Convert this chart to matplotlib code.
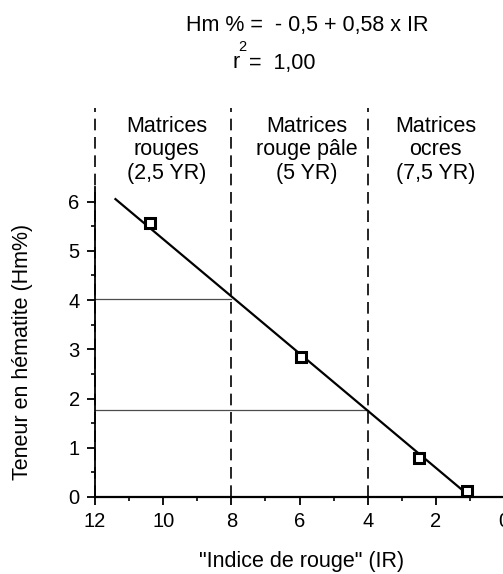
#! /usr/bin/python3

import matplotlib
matplotlib.use("Agg")
import matplotlib.pyplot as plt
from matplotlib.ticker import FixedLocator

# measured points (IR, Hm%)
ir = [10.4, 5.95, 2.5, 1.1]
hm = [5.57, 2.85, 0.79, 0.12]

# regression line end points
fit_ir = [11.4, 0.98]
fit_hm = [6.05, 0.0]

# class limits and the read-off levels
limits = [12, 8, 4]
levels = [4.03, 1.77]
level_ends = [8, 4]

classes = ["Matrices\nrouges\n(2,5 YR)",
           "Matrices\nrouge pâle\n(5 YR)",
           "Matrices\nocres\n(7,5 YR)"]
class_x = [9.9, 5.8, 2.0]

x_ticks = [12, 10, 8, 6, 4, 2, 0]
x_minor = [11, 9, 7, 5, 3, 1]
y_ticks = [0, 1, 2, 3, 4, 5, 6]
y_minor = [0.5, 1.5, 2.5, 3.5, 4.5, 5.5]


def main():
    plt.rcParams['font.family'] = ['Liberation Sans', 'DejaVu Sans']
    W, H = 503, 574
    fig = plt.figure(figsize=(W / 100, H / 100), dpi=100)
    ax = fig.add_axes([95 / W, 77 / H, 409 / W, 389 / H])
    ax.set_xlim(12, 0)
    ax.set_ylim(0, 7.9)
    ax.patch.set_alpha(0)

    for s in ["top", "right"]:
        ax.spines[s].set_visible(False)
    ax.spines["left"].set_bounds(0, 6.3)
    ax.spines["left"].set_linewidth(1.3)
    ax.spines["bottom"].set_linewidth(1.6)

    # dashed class limits
    for x in limits:
        ax.plot([x, x], [0, 7.9], color="black", lw=1.2,
                dashes=(7, 4), clip_on=False, zorder=1)

    # horizontal read-off lines
    for y, xe in zip(levels, level_ends):
        ax.plot([12, xe], [y, y], color="0.3", lw=0.9, zorder=1)

    ax.plot(fit_ir, fit_hm, color="black", lw=1.6, zorder=2)
    ax.plot(ir, hm, linestyle="none", marker="s", markersize=7.5,
            markerfacecolor="white", markeredgecolor="black",
            markeredgewidth=2.2, zorder=3, clip_on=False)

    ax.set_xticks(x_ticks)
    ax.set_yticks(y_ticks)
    ax.xaxis.set_minor_locator(FixedLocator(x_minor))
    ax.yaxis.set_minor_locator(FixedLocator(y_minor))
    ax.tick_params(which="major", direction="out", length=6, width=1.3,
                   labelsize=14.5, pad=5)
    ax.tick_params(which="minor", direction="out", length=3, width=1.2)

    for txt, x in zip(classes, class_x):
        ax.text(x, (497 - 150) / 49.2, txt, ha="center", va="center",
                multialignment="center", fontsize=15.5, linespacing=1.15)

    fig.text(307 / W, 1 - 26 / H, "Hm % =  - 0,5 + 0,58 x IR",
             ha="center", va="center", fontsize=15.5)
    fig.text(233 / W, 1 - 63 / H, "r", ha="left", va="center", fontsize=15.5)
    fig.text(238 / W, 1 - 47 / H, "2", ha="left", va="center", fontsize=10.5)
    fig.text(249 / W, 1 - 63 / H, "=  1,00", ha="left", va="center",
             fontsize=15.5)

    fig.text(302 / W, 1 - 562 / H, "\"Indice de rouge\" (IR)",
             ha="center", va="center", fontsize=15.5)
    fig.text(23 / W, 1 - 352 / H, "Teneur en hématite (Hm%)",
             ha="center", va="center", rotation=90, fontsize=15.5)

    fig.savefig("out.png", dpi=100)


if __name__ == "__main__":
    main()
